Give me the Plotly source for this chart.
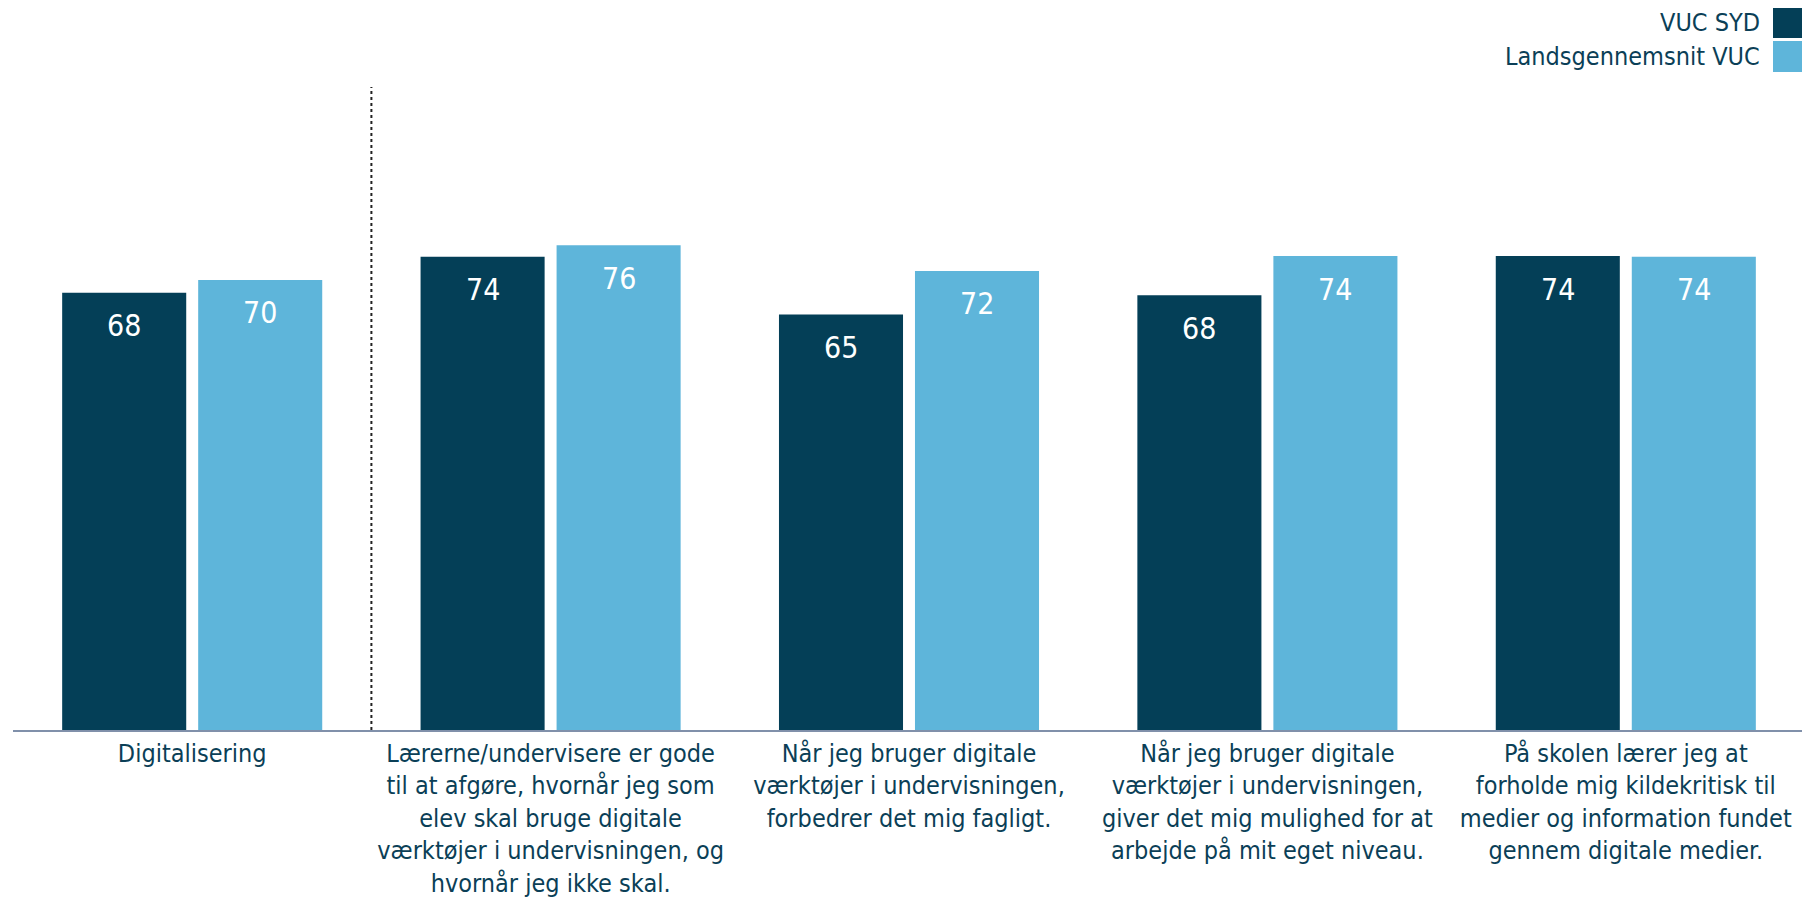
import plotly.graph_objects as go

categories = [
    "Digitalisering",
    "Lærerne/undervisere er gode<br>til at afgøre, hvornår jeg som<br>elev skal bruge digitale<br>værktøjer i undervisningen, og<br>hvornår jeg ikke skal.",
    "Når jeg bruger digitale<br>værktøjer i undervisningen,<br>forbedrer det mig fagligt.",
    "Når jeg bruger digitale<br>værktøjer i undervisningen,<br>giver det mig mulighed for at<br>arbejde på mit eget niveau.",
    "På skolen lærer jeg at<br>forholde mig kildekritisk til<br>medier og information fundet<br>gennem digitale medier.",
]
series_names = ["VUC SYD", "Landsgennemsnit VUC"]
vuc_syd = [68.0, 73.6, 64.6, 67.6, 73.7]
landsgennemsnit = [70.0, 75.4, 71.4, 73.7, 73.6]
vuc_syd_labels = ["68", "74", "65", "68", "74"]
landsgennemsnit_labels = ["70", "76", "72", "74", "74"]

DARK = "#043F57"
LIGHT = "#5EB5DA"
TEXT = "#0B3F57"
FONT = "DejaVu Sans Condensed, Noto Sans, sans-serif"

# page body has an 8px margin, so the figure is sized to fill the rest of the window
W, H = 1802, 893
ML, MR, MT, MB = 5, 5, 79, 171
BARGAP = 0.241
GROUPGAP = 0.088

fig = go.Figure()
fig.add_trace(go.Bar(x=categories, y=vuc_syd, name=series_names[0],
                     marker=dict(color=DARK, line=dict(width=0)), showlegend=False))
fig.add_trace(go.Bar(x=categories, y=landsgennemsnit, name=series_names[1],
                     marker=dict(color=LIGHT, line=dict(width=0)), showlegend=False))

# bar value labels (inside near the top)
band = (W - ML - MR) / len(categories)
slot = band * (1 - BARGAP) / 2
annotations = []
for vals, labels, sign in [(vuc_syd, vuc_syd_labels, -1), (landsgennemsnit, landsgennemsnit_labels, 1)]:
    for c, v, t in zip(categories, vals, labels):
        annotations.append(dict(x=c, y=v, xref="x", yref="y", text=t, showarrow=False,
                                xshift=sign * slot / 2, yshift=-33, yanchor="middle",
                                font=dict(family=FONT, size=30, color="white")))

# custom legend (text left of the square, right aligned)
PW, PH = W - ML - MR, H - MT - MB
for i, name in enumerate(series_names):
    y_top = -1 + i * 34
    annotations.append(dict(x=1 - 43 / PW, y=1 + (MT - y_top - 15.5) / PH,
                            xref="paper", yref="paper", text=name, showarrow=False,
                            xanchor="right", yanchor="middle",
                            font=dict(family=FONT, size=25, color=TEXT)))
shapes = []
for i, col in enumerate([DARK, LIGHT]):
    y_top = -1 + i * 34
    shapes.append(dict(type="rect", xref="paper", yref="paper",
                       x0=1 - 32 / PW, x1=1 - 1 / PW,
                       y0=1 + (MT - y_top - 31) / PH, y1=1 + (MT - y_top) / PH,
                       fillcolor=col, line=dict(width=0)))

# dotted divider between the overall index and the questions
shapes.append(dict(type="line", xref="x", yref="y", x0=0.5, x1=0.5, y0=0, y1=100,
                   line=dict(color="#222222", width=2, dash="dot")))

fig.update_layout(
    width=W, height=H,
    margin=dict(l=ML, r=MR, t=MT, b=MB, autoexpand=False),
    paper_bgcolor="white", plot_bgcolor="white",
    barmode="group", bargap=BARGAP, bargroupgap=GROUPGAP,
    font=dict(family=FONT, color=TEXT),
    xaxis=dict(type="category", showline=True, linecolor="#8090AA", linewidth=1.5,
               showgrid=False, zeroline=False, ticks="", automargin=False,
               tickfont=dict(family=FONT, size=25, color=TEXT)),
    yaxis=dict(range=[0, 100], visible=False, showgrid=False, zeroline=False,
               automargin=False),
    annotations=annotations, shapes=shapes,
)

fig.write_html("out.html")
